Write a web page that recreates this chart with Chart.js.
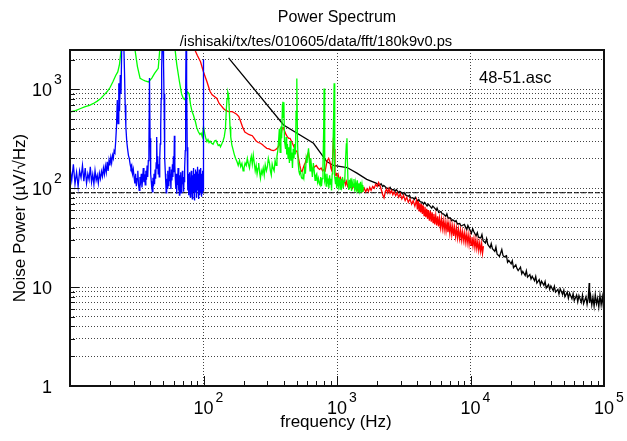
<!DOCTYPE html>
<html>
<head>
<meta charset="utf-8">
<title>Power Spectrum</title>
<script src="https://cdn.jsdelivr.net/npm/chart.js@4.4.1/dist/chart.umd.min.js"></script>
<style>
  html, body { margin: 0; padding: 0; background: #fff; }
</style>
</head>
<body>
<canvas id="spectrum" width="627" height="441"></canvas>
<script>
// [frequency (Hz), noise (uV/rtHz)]
const blueSeries = [
  [10,160],[10.3,120],[10.6,175],[10.9,110],[11.2,145],[11.5,104],[11.8,150],[12.1,128],[12.4,170],[12.7,118],
  [13.0,160],[13.3,112],[13.6,140],[13.9,122],[14.2,165],[14.5,115],[14.8,138],[15.1,110],[15.4,150],[15.7,120],
  [16.0,135],[16.3,112],[16.6,142],[16.9,125],[17.2,148],[17.5,132],[17.8,160],[18.1,138],[18.4,168],[18.7,145],
  [19.0,185],[19.3,150],[19.6,192],[19.9,170],[20.2,205],[20.5,180],[20.8,215],[21.1,200],[21.4,240],[21.7,230],
  [22.0,300],[22.3,420],[22.6,780],[22.9,450],[23.2,1150],[23.5,600],[23.8,1400],[24.1,900],[24.4,2600],[24.7,3000],
  [25.0,3000],[25.3,2800],[25.6,1500],[25.9,700],[26.2,420],[26.6,300],[27.0,250],[27.4,215],[27.8,200],[28.2,175],
  [28.6,160],[29.0,170],[29.4,140],[29.8,155],[30.2,130],[30.6,112],[31.0,140],[31.4,105],[31.8,125],[32.2,150],
  [32.6,110],[33.0,95],[33.4,130],[33.8,118],[34.2,140],[34.6,102],[35.0,125],[35.4,160],[35.8,115],[36.2,138],
  [36.6,108],[37.0,150],[37.4,122],[37.8,170],[38.2,130],[38.6,190],[39.0,260],[39.4,1300],[39.8,320],[40.2,140],
  [40.6,118],[41.0,100],[41.4,92],[41.8,128],[42.2,105],[42.6,140],[43.0,110],[43.4,155],[43.8,125],[44.2,180],
  [44.6,330],[45.0,160],[45.4,210],[45.8,140],[46.2,175],[46.6,130],[47.0,200],[47.4,280],[47.8,420],[48.2,800],
  [48.6,1600],[49.0,3000],[49.4,3000],[49.8,3000],[50.2,1800],[50.6,900],[51.0,400],[51.4,200],[51.8,140],[52.2,110],
  [52.6,90],[53.0,125],[53.4,100],[53.8,150],[54.2,115],[54.6,135],[55.0,105],[55.5,165],[56.0,118],[56.5,140],
  [57.0,98],[57.5,155],[58.0,120],[58.5,175],[59.0,130],[59.5,210],[60.0,145],[60.5,340],[61.0,170],[61.5,125],
  [62.0,100],[62.5,140],[63.0,88],[63.5,130],[64.0,108],[64.5,160],[65.0,95],[65.5,120],[66.0,85],[66.5,135],
  [67.0,105],[67.5,145],[68.0,90],[68.5,125],[69.0,100],[69.5,150],[70.0,110],[70.5,130],[71.0,92],[71.5,125],
  [72.0,115],[72.5,160],[73.0,240],[73.5,900],[74.0,3000],[74.5,3000],[75.0,1200],[75.5,260],[76.0,130],[76.5,95],
  [77.0,140],[77.5,85],[78.0,118],[78.5,100],[79.0,145],[79.5,82],[80.0,128],[80.5,95],[81.0,150],[81.5,88],
  [82.0,115],[82.5,78],[83.0,135],[83.5,100],[84.0,160],[84.5,92],[85.0,125],[85.5,75],[86.0,140],[86.5,105],
  [87.0,155],[87.5,90],[88.0,130],[88.5,80],[89.0,148],[89.5,110],[90.0,165],[90.5,95],[91.0,120],[91.5,78],
  [92.0,140],[92.5,100],[93.0,155],[93.5,85],[94.0,130],[94.5,105],[95.0,160],[95.5,90],[96.0,140],[96.5,82],
  [97.0,125],[97.5,110],[98.0,150],[98.5,88],[99.0,135],[99.5,95],[100.0,2000]
];

const greenSeries = [
  [10,590],[11,610],[12,640],[13,670],[14,690],[15,720],[16,760],[17,810],[18,880],[19,950],
  [20,1050],[21,1200],[22,1380],[22.8,1500],[23.5,1800],[24.2,2600],[25,3500],[26,4000],[28,3800],[29.5,3200],
  [30.7,2500],[32,1700],[33.5,1290],[35,1250],[36.5,1220],[38.7,1190],[41,1300],[43,1450],[45.8,1630],[47,2500],
  [48,3500],[52,4000],[58,3800],[61.3,2500],[63,1800],[66,1200],[68.5,900],[70.6,810],[72,790],[74,850],
  [76,940],[78,900],[80,700],[82,600],[84,550],[87,470],[89,410],[91.5,373],[94,350],[96,360],
  [98,330],[100,420],[102,360],[104,320],[106,296],[108,310],[110,290],[112,300],[115,285],[118,278],
  [121,300],[124,305],[126,290],[129,270],[132,275],[134,262],[137,280],[140,300],[143,330],[146,400],
  [148,600],[150,800],[152,940],[154,880],[156,620],[158,420],[160,330],[163,275],[166,250],[170,220],
  [174,200],[178,186],[182,170],[186,190],[190,165],[194,178],[198,150],[201,160],[205,180],[209,170],
  [213,200],[217,175],[221,160],[224,186],[228,210],[232,175],[236,217],[240,180],[244,150],[248,170],
  [252,140],[256,160],[259,180],[263,145],[267,126],[271,150],[275,140],[280,160],[285,135],[290,172],
  [296,150],[301,165],[306,201],[312,180],[317,150],[322,136],[327,175],[332,160],[338,150],[344,190],
  [350,170],[355,210],[360,240],[365,300],[370,400],[375,230],[380,420],[385,320],[390,700],[393,750],
  [396,520],[400,740],[404,300],[408,274],[412,250],[416,330],[420,220],[425,280],[430,200],[435,260],
  [440,180],[446,300],[452,190],[458,230],[464,160],[470,250],[476,200],[482,280],[488,220],[494,600],
  [500,1290],[506,300],[512,180],[518,150],[524,140],[532,150],[540,130],[548,125],[556,135],[564,126],
  [572,160],[580,140],[588,200],[596,180],[604,220],[612,253],[620,190],[628,150],[636,201],[645,160],
  [654,130],[665,180],[675,150],[685,120],[695,135],[705,140],[715,115],[725,126],[735,112],[745,108],
  [755,130],[765,105],[775,125],[785,170],[795,400],[800,1020],[806,350],[812,120],[820,130],[830,105],
  [840,140],[850,115],[860,120],[870,100],[880,135],[890,110],[900,125],[910,95],[920,140],[930,200],
  [945,600],[952,1150],[958,400],[965,130],[975,110],[985,130],[995,100],[1010,125],[1025,105],[1040,128],
  [1055,98],[1070,124],[1085,106],[1100,130],[1115,100],[1130,118],[1145,126],[1160,200],[1175,280],[1187,320],
  [1195,200],[1210,112],[1225,96],[1240,122],[1255,102],[1270,126],[1285,94],[1300,116],[1320,104],[1340,124],
  [1360,92],[1380,114],[1400,98],[1420,120],[1440,92],[1460,112],[1480,96],[1500,116],[1520,90],[1540,108],
  [1560,92],[1580,104]
];

const redSeries = [
  [84,2700],[90,2200],[95,1900],[100,1500],[106,1200],[112,950],[116,880],[120,850],[126,810],[131,720],
  [136,680],[141,640],[146,616],[152,600],[158,595],[164,594],[170,580],[177,560],[184,530],[190,470],
  [197,410],[204,370],[211,360],[218,350],[225,345],[232,340],[240,320],[248,300],[257,290],[267,285],
  [277,275],[288,262],[298,253],[310,250],[322,243],[334,240],[346,245],[358,255],[370,274],[380,330],
  [388,404],[396,410],[405,380],[415,350],[425,330],[435,320],[445,320],[455,300],[466,280],[477,260],
  [490,240],[502,234],[515,200],[527,170],[538,150],[548,147],[558,160],[568,172],[578,180],[590,200],
  [600,217],[612,230],[622,200],[635,175],[648,160],[665,159],[680,165],[700,170],[720,160],[740,155],
  [760,160],[780,150],[800,155],[816,150],[830,170],[845,190],[866,201],[885,185],[900,160],[915,150],
  [928,200],[940,320],[948,373],[955,250],[965,140],[975,136],[990,140],[1005,130],[1020,138],[1040,122],
  [1060,128],[1080,115],[1100,124],[1120,112],[1140,120],[1160,108],[1180,117],[1200,105],[1225,112],[1250,102],
  [1275,110],[1300,100],[1330,107],[1360,98],[1390,105],[1420,96],[1450,103],[1480,94],[1520,101],[1560,93],
  [1600,100],[1640,92],[1680,99],[1720,93],[1760,102],[1800,95],[1850,104],[1900,100],[1950,110],[2000,104],
  [2050,114],[2100,106],[2150,96],[2200,86],[2250,80],[2300,92],[2350,98],[2400,90],[2450,99],[2500,89],
  [2560,95],[2620,86],[2680,92],[2750,84],[2820,90],[2900,81],[2980,88],[3060,78],[3150,85],[3240,75],
  [3330,81],[3420,72],[3520,78],[3620,69],[3720,75],[3830,66],[3940,76],[4000,61],[4060,74],[4120,59],
  [4180,71],[4240,57],[4300,69],[4360,55],[4420,67],[4490,53],[4560,65],[4630,51],[4700,62],[4770,49],
  [4840,60],[4920,47],[5000,59],[5080,46],[5160,57],[5240,45],[5320,55],[5400,43],[5490,53],[5580,42],
  [5670,52],[5760,41],[5850,50],[5950,40],[6050,49],[6150,39],[6250,47],[6350,38],[6450,46],[6560,37],
  [6670,45],[6780,36],[6890,44],[7000,35],[7120,43],[7240,34],[7360,41.5],[7480,33],[7600,40.5],[7730,32.5],
  [7860,39.5],[7990,31.5],[8120,38.5],[8260,31],[8400,37.5],[8540,30],[8680,36.5],[8830,29.5],[8980,35.5],[9130,28.5],
  [9280,34.5],[9440,28],[9600,34],[9760,27],[9920,33],[10090,26.5],[10260,32],[10430,26],[10610,31],[10790,25],
  [10970,30],[11150,24.5],[11340,29],[11530,23.5],[11720,28],[11920,23],[12120,27.5],[12300,22],[12500,26]
];

const blackSeries = [
  [154,2085],[398,436],[667,285],[838,186],[940,170],[1190,162],[1410,142],[1670,123],[1980,112],[2060,106],
  [2140,111],[2200,104],[2240,107],[2340,101],[2450,99],[2500,102],[2560,96],[2660,97],[2720,93],[2780,97],
  [2900,90],[2960,93],[3020,91],[3150,86],[3220,90],[3280,85],[3420,83],[3490,85],[3560,80],[3710,80],
  [3790,77],[3860,81],[4020,74],[4100,77],[4190,73],[4360,72],[4450,69],[4540,72],[4730,66],[4820,69],
  [4920,67],[5120,63],[5220,66],[5330,64],[5550,60],[5620,63],[5780,57],[6010,58],[6130,55],[6260,55],
  [6520,52],[6650,55],[6790,50],[7070,50],[7200,47],[7360,48],[7660,46],[7800,47],[7980,43.5],[8310,44],
  [8480,41.5],[8650,42],[9000,43],[9370,38],[9560,42],[9760,39.5],[10160,35],[10380,39],[10580,36.5],[11010,33],
  [11250,35.5],[11470,32],[11940,31.5],[12180,34],[12430,29.5],[12940,28],[13200,31],[13470,27],[14030,25],[14300,27.5],
  [14600,24.5],[15200,23],[15500,25.5],[15830,21.5],[16480,20.5],[16800,22],[17160,24],[17500,21],[17860,20.2],[18600,20.8],
  [18950,17.8],[19360,18.6],[20160,17.2],[20560,18.5],[20990,15.7],[21850,16.8],[22300,15.4],[22750,14.7],[23690,15.9],[24200,13.6],
  [24660,14.4],[25680,13.1],[26200,14.6],[26730,12.6],[27830,13.4],[28400,12.1],[28980,12.9],[30170,11.6],[30800,12.8],[31410,11],
  [32700,11.9],[33400,10.5],[34050,11.5],[35450,10.4],[36200,11.4],[36910,9.8],[38430,10.6],[39200,9.5],[40010,10.3],[41650,9.2],
  [42500,10.2],[43370,8.9],[45150,9.5],[46000,8.5],[47010,9.6],[48940,8.4],[50000,9.3],[50960,8],[53050,8.9],[54100,7.7],
  [55230,8.7],[57510,7.6],[58700,8.6],[59870,7.3],[62340,8.3],[63600,7.1],[64900,8.2],[67570,7],[69000,8.3],[70350,6.8],
  [73240,8],[74700,6.7],[76260,7.9],[77500,11],[78000,6.9],[79400,8.2],[81000,6.6],[82650,7.9],[84300,6.4],[86050,8.4],
  [87800,6.8],[89590,7.7],[91400,6.3],[93280,8.3],[95200,6.6],[97120,8],[98500,6.7],[100000,7.8]
];

const levelSeries = [[10, 90], [100000, 90]];

// axis ticks and labels
const xGridValues = [100, 1000, 10000];
const yGridValues = [2,3,4,5,6,7,8,9,10,20,30,40,50,60,70,80,90,100,200,300,400,500,600,700,800,900,1000,2000];
const xLabelValues = [100, 1000, 10000, 100000];
const xLabelBase = ['10', '10', '10', '10'];
const xLabelExp = ['2', '3', '4', '5'];
const yLabelValues = [1, 10, 100, 1000];
const yLabelBase = ['1', '10', '10', '10'];
const yLabelExp = ['', '', '2', '3'];

const FONT = "'Liberation Sans', Arial, Helvetica, sans-serif";
const toPoints = arr => arr.map(p => ({ x: p[0], y: p[1] }));

function text(ctx, str, x, y, size, align) {
  ctx.font = size + 'px ' + FONT;
  ctx.textAlign = align;
  ctx.fillText(str, x, y);
}

// box, inner tick marks and all the labels
const framePlugin = {
  id: 'frame',
  afterDraw(chart) {
    const { ctx, chartArea: a } = chart;
    const xs = chart.scales.x, ys = chart.scales.y;
    ctx.save();
    ctx.strokeStyle = '#111';
    ctx.lineWidth = 1;
    ctx.beginPath();
    for (let d = 10; d < 100000; d *= 10) {
      for (let m = 1; m < 10; m++) {
        const v = d * m;
        if (v <= 10) continue;
        const px = Math.round(xs.getPixelForValue(v)) + 0.5;
        const len = m === 1 ? 10 : 5;
        ctx.moveTo(px, a.bottom);
        ctx.lineTo(px, a.bottom - len);
      }
    }
    yGridValues.forEach(v => {
      const py = Math.round(ys.getPixelForValue(v)) + 0.5;
      const len = [10, 100, 1000].includes(v) ? 9 : 5;
      ctx.moveTo(a.left, py);
      ctx.lineTo(a.left + len, py);
    });
    ctx.stroke();

    ctx.lineWidth = 2;
    ctx.strokeRect(a.left, a.top, a.right - a.left, a.bottom - a.top);

    ctx.fillStyle = '#000';
    ctx.textBaseline = 'alphabetic';
    text(ctx, 'Power Spectrum', 337, 22, 16, 'center');
    text(ctx, '/ishisaki/tx/tes/010605/data/fft/180k9v0.ps', 316, 46, 14.7, 'center');
    text(ctx, '48-51.asc', 479, 83, 16.5, 'left');

    xLabelValues.forEach((v, i) => {
      const px = xs.getPixelForValue(v);
      text(ctx, xLabelBase[i], px, 414, 18, 'center');
      text(ctx, xLabelExp[i], px + 12, 402, 14, 'left');
    });
    yLabelValues.forEach((v, i) => {
      const py = ys.getPixelForValue(v);
      text(ctx, yLabelBase[i], 52, py + 7, 18, 'right');
      if (yLabelExp[i]) text(ctx, yLabelExp[i], 54, py - 5, 14, 'left');
    });

    text(ctx, 'frequency (Hz)', 336, 427, 17, 'center');
    ctx.translate(25, 218);
    ctx.rotate(-Math.PI / 2);
    text(ctx, 'Noise Power (\u00b5V/\u221aHz)', 0, 0, 17, 'center');
    ctx.restore();
  }
};

const line = (data, color, extra) => Object.assign({
  data: toPoints(data),
  borderColor: color,
  borderWidth: 1.3,
  pointRadius: 0,
  tension: 0,
  fill: false
}, extra || {});

new Chart(document.getElementById('spectrum'), {
  type: 'line',
  data: {
    datasets: [
      line(blueSeries, '#0000ff'),
      line(greenSeries, '#00ff00'),
      line(redSeries, '#ff0000'),
      line(blackSeries, '#000000'),
      line(levelSeries, '#000000', { borderWidth: 1, borderDash: [5, 2] })
    ]
  },
  options: {
    responsive: false,
    animation: false,
    devicePixelRatio: 1,
    layout: { padding: { left: 70, right: 23, top: 50, bottom: 55 } },
    plugins: { legend: { display: false }, tooltip: { enabled: false } },
    scales: {
      x: {
        type: 'logarithmic',
        min: 10,
        max: 100000,
        afterBuildTicks: s => { s.ticks = xGridValues.map(v => ({ value: v })); },
        ticks: { display: false },
        grid: { color: '#444', lineWidth: 1, drawTicks: false },
        border: { display: false, dash: [1, 2] }
      },
      y: {
        type: 'logarithmic',
        min: 1,
        max: 2500,
        afterBuildTicks: s => { s.ticks = yGridValues.map(v => ({ value: v })); },
        ticks: { display: false },
        grid: { color: '#444', lineWidth: 1, drawTicks: false },
        border: { display: false, dash: [1, 2] }
      }
    }
  },
  plugins: [framePlugin]
});
</script>
</body>
</html>
